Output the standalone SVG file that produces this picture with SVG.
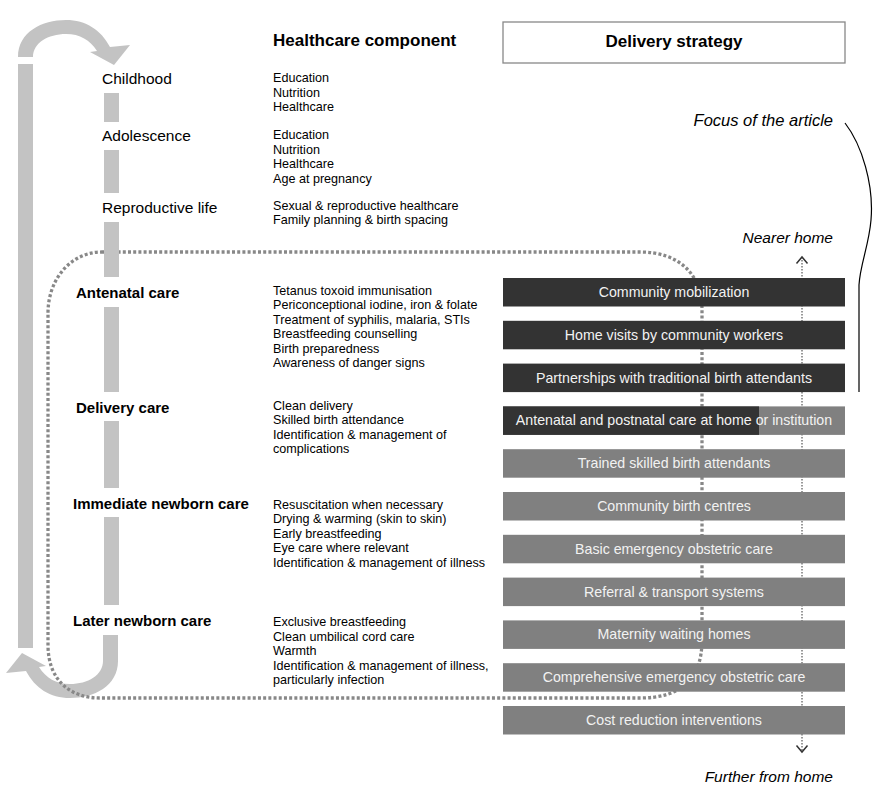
<svg xmlns="http://www.w3.org/2000/svg" width="889" height="800" viewBox="0 0 889 800">
<style>
text{font-family:"Liberation Sans",Arial,sans-serif;fill:#000}
.stage{font-size:15.5px}
.stageb{font-size:15px;font-weight:bold}
.item{font-size:12.6px}
.hdr{font-size:17px;font-weight:bold}
.it{font-style:italic;font-size:15.5px}
.band{fill:#c3c3c3}
.dark{fill:#333333}
.grey{fill:#808080}
.bt{font-size:14.2px;fill:#f2f2f2;text-anchor:middle}
</style>
<defs>
<path id="loop" d="M18 57 C18 32 42 20 66 20 C86 20 101 30 110 47 L130 45 L114 65 L90 52 L97 51 C90 40 80 34 66 34 C48 34 33 43 33 57 Z"/>
</defs>
<rect width="889" height="800" fill="#fff"/>
<g id="lifecycle-arrows">
<use href="#loop" class="band"/>
<rect class="band" x="18" y="64" width="15" height="584"/>
<use href="#loop" class="band" transform="rotate(180 68 359)"/>
<rect class="band" x="103" y="635" width="15" height="27"/>
</g>
<g id="connectors">
<path d="M102 252 L640 252 C680 252 702 275 702 310 L702 640 C702 680 680 698 640 698 L100 698 C70 698 48 680 48 645 L48 313 C48 280 70 252 102 252" fill="none" stroke="#888" stroke-width="3.3" stroke-dasharray="3 2.2"/>
<line x1="802" y1="257" x2="802" y2="752" stroke="#333" stroke-width="1" stroke-dasharray="1.5 1.5"/>
<polyline points="796.5,263.5 802,257 807.5,263.5" fill="none" stroke="#333" stroke-width="1.5"/>
<polyline points="796.5,745.5 802,752 807.5,745.5" fill="none" stroke="#333" stroke-width="1.5"/>
<path d="M845 123 C862 145 874 185 871 220 C869 245 860 265 859 285 L859 392" fill="none" stroke="#000" stroke-width="1.2"/>
</g>
<g id="stage-bars">
<rect class="band" x="104" y="93" width="15" height="29"/>
<rect class="band" x="104" y="150" width="15" height="43"/>
<rect class="band" x="104" y="222" width="15" height="55"/>
<rect class="band" x="104" y="307" width="15" height="85"/>
<rect class="band" x="104" y="421" width="15" height="67"/>
<rect class="band" x="104" y="517" width="15" height="88"/>
</g>
<g id="headers">
<text class="hdr" x="273" y="46">Healthcare component</text>
<g id="delivery-strategy-header">
<rect x="503" y="22" width="342" height="41" fill="#fff" stroke="#888" stroke-width="1.3"/>
<text class="hdr" x="674" y="47" text-anchor="middle">Delivery strategy</text>
</g>
</g>
<g id="childhood">
<text class="stage" x="102" y="84">Childhood</text>
<text class="item" x="273"><tspan x="273" y="82">Education</tspan><tspan x="273" y="96.5">Nutrition</tspan><tspan x="273" y="111">Healthcare</tspan></text>
</g>
<g id="adolescence">
<text class="stage" x="102" y="141">Adolescence</text>
<text class="item"><tspan x="273" y="139">Education</tspan><tspan x="273" y="153.5">Nutrition</tspan><tspan x="273" y="168">Healthcare</tspan><tspan x="273" y="182.5">Age at pregnancy</tspan></text>
</g>
<g id="reproductive-life">
<text class="stage" x="102" y="213">Reproductive life</text>
<text class="item"><tspan x="273" y="209.5">Sexual &amp; reproductive healthcare</tspan><tspan x="273" y="224">Family planning &amp; birth spacing</tspan></text>
</g>
<g id="antenatal-care">
<text class="stageb" x="76" y="298">Antenatal care</text>
<text class="item"><tspan x="273" y="295">Tetanus toxoid immunisation</tspan><tspan x="273" y="309.4">Periconceptional iodine, iron &amp; folate</tspan><tspan x="273" y="323.8">Treatment of syphilis, malaria, STIs</tspan><tspan x="273" y="338.2">Breastfeeding counselling</tspan><tspan x="273" y="352.6">Birth preparedness</tspan><tspan x="273" y="367">Awareness of danger signs</tspan></text>
</g>
<g id="delivery-care">
<text class="stageb" x="76" y="413">Delivery care</text>
<text class="item"><tspan x="273" y="409.5">Clean delivery</tspan><tspan x="273" y="424">Skilled birth attendance</tspan><tspan x="273" y="438.5">Identification &amp; management of</tspan><tspan x="273" y="453">complications</tspan></text>
</g>
<g id="immediate-newborn-care">
<text class="stageb" x="73" y="509">Immediate newborn care</text>
<text class="item"><tspan x="273" y="508.5">Resuscitation when necessary</tspan><tspan x="273" y="523">Drying &amp; warming (skin to skin)</tspan><tspan x="273" y="537.5">Early breastfeeding</tspan><tspan x="273" y="552">Eye care where relevant</tspan><tspan x="273" y="566.5">Identification &amp; management of illness</tspan></text>
</g>
<g id="later-newborn-care">
<text class="stageb" x="73" y="626">Later newborn care</text>
<text class="item"><tspan x="273" y="626">Exclusive breastfeeding</tspan><tspan x="273" y="640.5">Clean umbilical cord care</tspan><tspan x="273" y="655">Warmth</tspan><tspan x="273" y="669.5">Identification &amp; management of illness,</tspan><tspan x="273" y="684">particularly infection</tspan></text>
</g>
<g id="s1"><rect class="dark" x="503" y="278" width="342" height="28.5"/><text class="bt" x="674" y="297">Community mobilization</text></g>
<g id="s2"><rect class="dark" x="503" y="320.8" width="342" height="28.5"/><text class="bt" x="674" y="339.8">Home visits by community workers</text></g>
<g id="s3"><rect class="dark" x="503" y="363.6" width="342" height="28.5"/><text class="bt" x="674" y="382.6">Partnerships with traditional birth attendants</text></g>
<g id="s4"><rect class="grey" x="503" y="406.4" width="342" height="28.5"/><rect class="dark" x="503" y="406.4" width="256" height="28.5"/><text class="bt" x="674" y="425.4">Antenatal and postnatal care at home or institution</text></g>
<g id="s5"><rect class="grey" x="503" y="449.2" width="342" height="28.5"/><text class="bt" x="674" y="468.2">Trained skilled birth attendants</text></g>
<g id="s6"><rect class="grey" x="503" y="492" width="342" height="28.5"/><text class="bt" x="674" y="511">Community birth centres</text></g>
<g id="s7"><rect class="grey" x="503" y="534.8" width="342" height="28.5"/><text class="bt" x="674" y="553.8">Basic emergency obstetric care</text></g>
<g id="s8"><rect class="grey" x="503" y="577.6" width="342" height="28.5"/><text class="bt" x="674" y="596.6">Referral &amp; transport systems</text></g>
<g id="s9"><rect class="grey" x="503" y="620.4" width="342" height="28.5"/><text class="bt" x="674" y="639.4">Maternity waiting homes</text></g>
<g id="s10"><rect class="grey" x="503" y="663.2" width="342" height="28.5"/><text class="bt" x="674" y="682.2">Comprehensive emergency obstetric care</text></g>
<g id="s11"><rect class="grey" x="503" y="706" width="342" height="28.5"/><text class="bt" x="674" y="725">Cost reduction interventions</text></g>
<g id="labels">
<text class="it" x="833" y="126" text-anchor="end" style="font-size:16.5px">Focus of the article</text>
<text class="it" x="833" y="243" text-anchor="end">Nearer home</text>
<text class="it" x="833" y="782" text-anchor="end">Further from home</text>
</g>
</svg>
